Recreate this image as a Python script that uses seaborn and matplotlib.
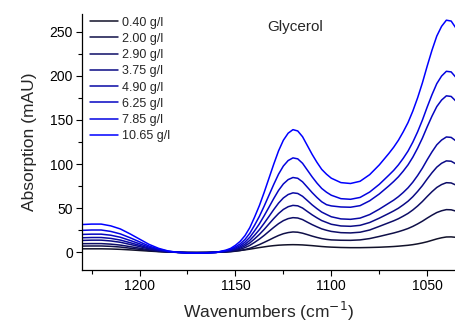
import numpy as np
import pandas as pd
import matplotlib
matplotlib.use("Agg")
import matplotlib.pyplot as plt
from matplotlib.ticker import MultipleLocator
import seaborn as sns

# Wavenumber grid (cm^-1): 5 cm^-1 steps on the flat parts, 2.5 cm^-1 across the bands
wavenumbers = (list(np.arange(1230, 1154, -5.0))
               + list(np.arange(1152.5, 1101, -2.5))
               + list(np.arange(1100, 1069, -5.0))
               + list(np.arange(1067.5, 1034, -2.5)))

concentrations = ["0.40 g/l", "2.00 g/l", "2.90 g/l", "3.75 g/l",
                  "4.90 g/l", "6.25 g/l", "7.85 g/l", "10.65 g/l"]

abs_040 = [4.0, 4.0, 4.0, 3.8, 3.4, 2.8, 2.1, 1.4, 0.8, 0.3, 0.0, -0.1, -0.1, 0.0, 0.2, 0.6,
           1.0, 1.5, 2.1, 2.8, 3.6, 4.5, 5.4, 6.2, 7.0, 7.6, 8.1, 8.4, 8.6, 8.7, 8.6, 8.4,
           8.0, 7.6, 7.1, 6.6, 6.2,
           5.9, 5.5, 5.3, 5.3, 5.5, 5.8, 6.3,
           6.6, 7.0, 7.5, 8.0, 8.7, 9.6, 10.7, 12.0, 13.6, 15.2, 16.5, 17.4, 17.5, 17.0]
abs_200 = [7.1, 7.2, 7.2, 6.8, 6.0, 4.7, 3.4, 2.0, 1.0, 0.3, 0.0, -0.2, -0.2, -0.2, 0.0, 0.4,
           0.7, 1.3, 2.1, 3.2, 4.6, 6.6, 8.8, 11.3, 13.9, 16.6, 19.1, 21.1, 22.4, 23.1, 22.8, 21.7,
           20.1, 18.4, 16.9, 15.6, 14.7,
           14.1, 13.7, 13.6, 14.1, 15.6, 18.0, 20.6,
           21.9, 23.4, 25.1, 27.0, 29.4, 32.2, 35.3, 38.8, 42.1, 45.1, 47.1, 48.4, 48.2, 46.7]
abs_290 = [9.8, 9.9, 9.9, 9.3, 8.2, 6.5, 4.7, 2.8, 1.4, 0.5, 0.0, -0.2, -0.3, -0.2, 0.0, 0.7,
           1.3, 2.3, 3.5, 5.4, 7.9, 11.3, 15.0, 19.2, 23.8, 28.3, 32.5, 35.9, 38.2, 39.3, 38.9, 37.1,
           34.2, 31.4, 28.9, 26.6, 25.0,
           23.7, 22.3, 22.0, 22.8, 25.3, 29.4, 33.6,
           35.7, 38.1, 41.0, 44.1, 48.0, 52.5, 57.6, 63.3, 68.7, 73.5, 76.8, 78.9, 78.6, 76.2]
abs_375 = [13.5, 13.8, 13.8, 12.9, 11.4, 9.0, 6.5, 3.9, 1.9, 0.6, 0.0, -0.3, -0.4, -0.3, 0.0, 1.0,
           1.7, 3.1, 4.8, 7.3, 10.7, 15.3, 20.3, 26.0, 32.2, 38.3, 44.0, 48.6, 51.7, 53.2, 52.7, 50.2,
           46.3, 42.5, 39.1, 36.0, 33.9,
           31.8, 29.9, 29.5, 30.6, 33.8, 38.7, 44.1,
           46.9, 50.0, 53.8, 57.9, 63.0, 69.0, 75.6, 83.1, 90.2, 96.5, 100.9, 103.6, 103.2, 100.1]
abs_490 = [16.5, 16.8, 16.8, 15.8, 13.9, 11.0, 7.9, 4.7, 2.4, 0.8, 0.0, -0.4, -0.5, -0.4, 0.0, 1.2,
           2.2, 3.9, 6.1, 9.2, 13.6, 19.4, 25.7, 33.0, 40.7, 48.5, 55.8, 61.6, 65.5, 67.4, 66.7, 63.5,
           58.7, 53.8, 49.5, 45.6, 42.9,
           40.3, 37.9, 37.4, 38.8, 42.8, 48.9, 55.7,
           59.1, 63.1, 67.8, 73.1, 79.5, 87.0, 95.4, 104.9, 113.8, 121.8, 127.2, 130.7, 130.2, 126.2]
abs_625 = [20.3, 20.6, 20.6, 19.4, 17.1, 13.5, 9.7, 5.8, 2.9, 1.0, 0.0, -0.5, -0.6, -0.5, 0.0, 1.5,
           2.7, 4.9, 7.6, 11.6, 17.1, 24.4, 32.3, 41.5, 51.2, 61.0, 70.2, 77.5, 82.4, 84.8, 83.9, 79.9,
           73.8, 67.7, 62.2, 57.3, 54.0,
           52.6, 51.4, 51.1, 52.9, 58.4, 66.1, 75.3,
           80.2, 85.6, 92.0, 99.1, 107.8, 118.0, 129.4, 142.2, 154.3, 165.1, 172.5, 177.3, 176.6, 171.2]
abs_785 = [24.9, 25.3, 25.3, 23.7, 20.9, 16.6, 11.9, 7.1, 3.6, 1.2, 0.0, -0.7, -0.8, -0.6, 0.0, 1.9,
           3.5, 6.2, 9.6, 14.6, 21.6, 30.8, 40.8, 52.4, 64.7, 77.0, 88.6, 97.8, 104.0, 107.0, 105.9, 100.9,
           93.2, 85.5, 78.5, 72.4, 68.1,
           64.7, 60.8, 60.1, 62.2, 68.3, 77.0, 87.4,
           92.8, 99.1, 106.5, 114.7, 124.8, 136.5, 149.8, 164.6, 178.6, 191.1, 199.7, 205.1, 204.4, 198.1]
abs_1065 = [31.5, 32.0, 32.0, 30.0, 26.5, 21.0, 15.0, 9.0, 4.5, 1.5, 0.0, -0.8, -1.0, -0.8, 0.0, 2.5,
            4.5, 8.0, 12.5, 19.0, 28.0, 40.0, 53.0, 68.0, 84.0, 100.0, 115.0, 127.0, 135.0, 139.0, 137.5, 131.0,
            121.0, 111.0, 102.0, 94.0, 88.5,
            84.0, 79.0, 78.0, 80.5, 88.0, 99.0, 112.0,
            119.0, 127.0, 136.5, 147.0, 160.0, 175.0, 192.0, 211.0, 229.0, 245.0, 256.0, 263.0, 262.0, 254.0]

series = [abs_040, abs_200, abs_290, abs_375, abs_490, abs_625, abs_785, abs_1065]

df = pd.concat(
    [pd.DataFrame({"wavenumber": wavenumbers, "absorption": vals, "conc": name})
     for name, vals in zip(concentrations, series)],
    ignore_index=True,
)

sns.set_theme(style="ticks")
plt.rcParams["font.family"] = ["Liberation Sans", "DejaVu Sans"]

palette = sns.blend_palette(["#12122a", "#0000ff"], n_colors=len(concentrations))

fig = plt.figure(figsize=(4.55, 3.25), dpi=100)
ax = fig.add_axes([82 / 455, 55 / 325, 373 / 455, 256 / 325])

sns.lineplot(data=df, x="wavenumber", y="absorption", hue="conc",
             hue_order=concentrations, palette=palette, linewidth=1.1,
             ax=ax, legend=True, sort=False)

ax.set_xlim(1230, 1035.5)
ax.set_ylim(-20, 270)
ax.xaxis.set_major_locator(MultipleLocator(50))
ax.xaxis.set_minor_locator(MultipleLocator(25))
ax.yaxis.set_major_locator(MultipleLocator(50))
ax.yaxis.set_minor_locator(MultipleLocator(25))
ax.tick_params(which="major", direction="out", length=4, width=0.8,
               labelsize=10, pad=2.5, color="black", labelcolor="black")
ax.tick_params(which="minor", direction="out", length=3, width=0.8,
               color="black")
for side in ("top", "right"):
    ax.spines[side].set_visible(False)
for side in ("left", "bottom"):
    ax.spines[side].set_linewidth(0.9)
    ax.spines[side].set_color("black")

ax.set_xlabel("Wavenumbers (cm$^{-1}$)", fontsize=12.5, labelpad=5)
ax.set_ylabel("Absorption (mAU)", fontsize=12.5, labelpad=9)

ax.text(0.646, 0.949, "Glycerol", transform=ax.transAxes, fontsize=11,
        ha="right", va="center")

leg = ax.legend(loc="upper left", bbox_to_anchor=(0.022, 0.99), frameon=False,
                fontsize=9, handlelength=2.25, handletextpad=0.3,
                labelspacing=0.34, borderpad=0, borderaxespad=0)
for line in leg.get_lines():
    line.set_linewidth(1.1)

fig.savefig("out.png", dpi=100)
